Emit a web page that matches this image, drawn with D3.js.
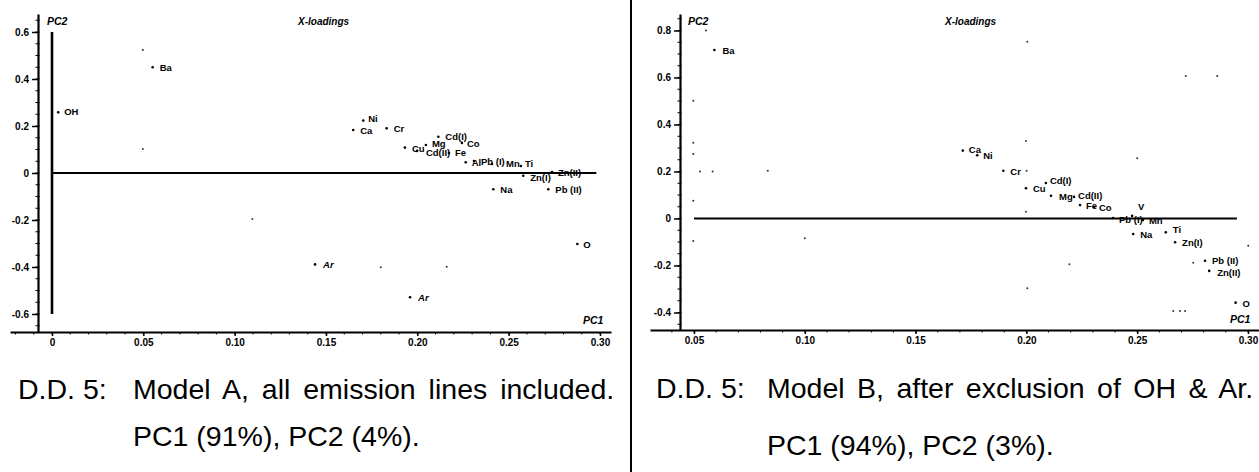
<!DOCTYPE html>
<html>
<head>
<meta charset="utf-8">
<script src="https://cdn.jsdelivr.net/npm/d3@7"></script>
<style>
  html, body { margin: 0; padding: 0; background: #fff; }
  svg { display: block; }
  text { font-family: "Liberation Sans", Arial, sans-serif; fill: #000; }
</style>
</head>
<body>
<svg id="chart" width="1259" height="472"></svg>
<script>
// ---------------- DATA ----------------
// Model A (left panel)
const aNames = ["OH","Ba","Ca","Ni","Cr","Cu","Mg","Cd(II)","Cd(I)","Co","Fe","Al","Pb (I)","Mn","Ti","Zn(I)","Zn(II)","Na","Pb (II)","O","Ar","Ar"];
const aPC1   = [0.0034,0.0551,0.1649,0.1704,0.1832,0.1932,0.2047,0.1998,0.2115,0.2244,0.2173,0.2265,0.2310,0.2409,0.2567,0.2580,0.2737,0.2416,0.2717,0.2876,0.1440,0.1960];
const aPC2   = [0.258,0.450,0.183,0.223,0.190,0.108,0.119,0.094,0.154,0.128,0.085,0.046,0.051,0.038,0.030,-0.012,0.004,-0.069,-0.069,-0.302,-0.389,-0.529];
const aExtraPC1 = [0.0497,0.0497,0.1097,0.1800,0.2161];
const aExtraPC2 = [0.523,0.102,-0.196,-0.401,-0.399];
const aXTicks = [0,0.05,0.10,0.15,0.20,0.25,0.30];
const aXTickLabels = ["0","0.05","0.10","0.15","0.20","0.25","0.30"];
const aYTicks = [-0.6,-0.4,-0.2,0,0.2,0.4,0.6];
const aYTickLabels = ["-0.6","-0.4","-0.2","0","0.2","0.4","0.6"];
const aCaption1 = "Model A, all emission lines included.";
const aCaption2 = "PC1 (91%), PC2 (4%).";

// Model B (right panel)
const bNames = ["Ba","Ca","Ni","Cr","Cu","Cd(I)","Mg","Cd(II)","Fe","Co","Pb (I)","V","Mn","Na","Ti","Zn(I)","Pb (II)","Zn(II)","O"];
const bPC1   = [0.0592,0.1713,0.1778,0.1896,0.1998,0.2088,0.2111,0.2215,0.2242,0.2305,0.2391,0.2477,0.2526,0.2482,0.2629,0.2671,0.2806,0.2825,0.2944];
const bPC2   = [0.717,0.289,0.269,0.203,0.129,0.151,0.097,0.092,0.057,0.049,0.002,0.011,-0.006,-0.066,-0.059,-0.101,-0.180,-0.223,-0.358];
const bExtraPC1 = [0.0554,0.0497,0.0497,0.0497,0.0527,0.0584,0.0833,0.0497,0.0497,0.1000,0.2004,0.2719,0.2861,0.1998,0.2500,0.2001,0.1998,0.3001,0.2753,0.2194,0.2004,0.2663,0.2693,0.2716];
const bExtraPC2 = [0.800,0.501,0.322,0.274,0.200,0.200,0.203,0.076,-0.096,-0.084,0.752,0.606,0.606,0.330,0.256,0.203,0.029,-0.116,-0.188,-0.195,-0.297,-0.394,-0.394,-0.394];
const bXTicks = [0.05,0.10,0.15,0.20,0.25,0.30];
const bXTickLabels = ["0.05","0.10","0.15","0.20","0.25","0.30"];
const bYTicks = [-0.4,-0.2,0,0.2,0.4,0.6,0.8];
const bYTickLabels = ["-0.4","-0.2","0","0.2","0.4","0.6","0.8"];
const bCaption1 = "Model B, after exclusion of OH & Ar.";
const bCaption2 = "PC1 (94%), PC2 (3%).";

const captionPrefix = "D.D. 5:";
const titleText = "X-loadings";

// ---------------- LAYOUT / STYLE ----------------
const svg = d3.select("#chart");
const FONT = "'Liberation Sans', Arial, sans-serif";

// label offsets (pixels) per point, layout only
const aOffsets = [[6,3],[7,4],[7,4],[5,1],[7,4],[7,4],[6,2],[9,5],[7,3],[5,4],[6,3],[6,4],[7,4],[14,3],[4,1],[7,5],[6,4],[7,4],[7,4],[6,4],[8,4],[8,4]];
const bOffsets = [[8,4],[6,2],[6,4],[7,4],[7,4],[4,1],[8,4],[4,2],[6,4],[5,4],[6,5],[6,-6],[6,4],[7,4],[7,1],[7,4],[7,3],[8,5],[7,4]];

function drawPanel(cfg) {
  const g = svg.append("g");
  const x = d3.scaleLinear().domain(cfg.xDom).range(cfg.xRange);
  const y = d3.scaleLinear().domain(cfg.yDom).range(cfg.yRange);

  // axis scales spanning the drawn axis lines
  const xAx = x.copy().domain([x.invert(cfg.xAxisPx[0]), x.invert(cfg.xAxisPx[1])]).range(cfg.xAxisPx);
  const yAx = y.copy().domain([y.invert(cfg.yAxisPx[0]), y.invert(cfg.yAxisPx[1])]).range(cfg.yAxisPx);

  // minor ticks
  const xMinor = d3.range(Math.ceil(xAx.domain()[0] * 100), Math.floor(xAx.domain()[1] * 100) + 1).map(d => d / 100);
  g.append("g").attr("transform", `translate(0,${cfg.xAxisY})`)
    .selectAll("line").data(xMinor).join("line")
    .attr("x1", d => x(d)).attr("x2", d => x(d)).attr("y1", 0).attr("y2", 2.5)
    .attr("stroke", "#000").attr("stroke-width", 1);
  const yMinor = d3.range(Math.ceil(yAx.domain()[0] * 20), Math.floor(yAx.domain()[1] * 20) + 1).map(d => d / 20);
  g.append("g").attr("transform", `translate(${cfg.yAxisX},0)`)
    .selectAll("line").data(yMinor).join("line")
    .attr("x1", -2.5).attr("x2", 1.5).attr("y1", d => y(d)).attr("y2", d => y(d))
    .attr("stroke", "#000").attr("stroke-width", 1);

  const xAxis = d3.axisBottom(xAx).tickValues(cfg.xTicks)
    .tickFormat((d, i) => cfg.xTickLabels[i]).tickSizeInner(4).tickSizeOuter(0).tickPadding(3);
  const gx = g.append("g").attr("transform", `translate(0,${cfg.xAxisY})`).call(xAxis);
  gx.select(".domain").attr("stroke-width", 2.2);
  gx.selectAll(".tick line").attr("stroke-width", 1.5);
  gx.selectAll(".tick text").attr("font-size", 10).attr("font-weight", "bold").attr("font-family", FONT);

  const yAxis = d3.axisLeft(yAx).tickValues(cfg.yTicks)
    .tickFormat((d, i) => cfg.yTickLabels[i]).tickSizeInner(6).tickSizeOuter(0).tickPadding(3);
  const gy = g.append("g").attr("transform", `translate(${cfg.yAxisX},0)`).call(yAxis);
  gy.select(".domain").attr("stroke-width", 2.2);
  gy.selectAll(".tick line").attr("stroke-width", 1.5);
  gy.selectAll(".tick text").attr("font-size", 10).attr("font-weight", "bold").attr("font-family", FONT);

  // zero reference lines
  g.append("line")
    .attr("x1", x(cfg.zeroLineFrom)).attr("x2", x(cfg.zeroLineTo))
    .attr("y1", y(0)).attr("y2", y(0))
    .attr("stroke", "#000").attr("stroke-width", 2);
  if (cfg.vLine) {
    g.append("line")
      .attr("x1", x(0)).attr("x2", x(0))
      .attr("y1", y(cfg.vLine[0])).attr("y2", y(cfg.vLine[1]))
      .attr("stroke", "#000").attr("stroke-width", 2.6);
  }

  // unlabeled points
  const extra = cfg.extraX.map((v, i) => ({ x: v, y: cfg.extraY[i] }));
  g.append("g").selectAll("circle").data(extra).join("circle")
    .attr("cx", d => x(d.x)).attr("cy", d => y(d.y)).attr("r", 1)
    .attr("fill", "#333");

  // labeled points
  const pts = cfg.names.map((n, i) => ({ name: n, x: cfg.px[i], y: cfg.py[i], off: cfg.offsets[i] }));
  g.append("g").selectAll("circle").data(pts).join("circle")
    .attr("cx", d => x(d.x)).attr("cy", d => y(d.y)).attr("r", 1.3)
    .attr("fill", "#000");
  g.append("g").selectAll("text").data(pts).join("text")
    .attr("x", d => x(d.x) + d.off[0]).attr("y", d => y(d.y) + d.off[1])
    .attr("font-size", 9.5).attr("font-weight", "bold")
    .attr("font-style", d => d.name === "Ar" ? "italic" : "normal")
    .text(d => d.name);

  // axis titles
  g.append("text").attr("x", cfg.pc2Pos[0]).attr("y", cfg.pc2Pos[1])
    .attr("font-size", 10.5).attr("font-weight", "bold").attr("font-style", "italic").text("PC2");
  g.append("text").attr("x", cfg.pc1Pos[0]).attr("y", cfg.pc1Pos[1])
    .attr("font-size", 10.5).attr("font-weight", "bold").attr("font-style", "italic").text("PC1");
  g.append("text").attr("x", cfg.titlePos[0]).attr("y", cfg.titlePos[1])
    .attr("font-size", 10).attr("font-weight", "bold").attr("font-style", "italic").text(titleText);

  // captions
  g.append("text").attr("x", cfg.capX0).attr("y", cfg.capY1).attr("font-size", 28.5).text(captionPrefix);
  g.append("text").attr("x", cfg.capX1).attr("y", cfg.capY1).attr("font-size", 28.5)
    .attr("word-spacing", cfg.capWordSpacing).text(cfg.cap1);
  g.append("text").attr("x", cfg.capX1).attr("y", cfg.capY2).attr("font-size", 28.5).text(cfg.cap2);
}

drawPanel({
  names: aNames, px: aPC1, py: aPC2, offsets: aOffsets,
  extraX: aExtraPC1, extraY: aExtraPC2,
  xDom: [0, 0.30], xRange: [52, 600],
  yDom: [-0.6, 0.6], yRange: [314, 32],
  xAxisPx: [10, 611], xAxisY: 332,
  yAxisPx: [332, 14], yAxisX: 38,
  xTicks: aXTicks, xTickLabels: aXTickLabels,
  yTicks: aYTicks, yTickLabels: aYTickLabels,
  zeroLineFrom: 0, zeroLineTo: 0.298,
  vLine: [-0.6, 0.6],
  pc2Pos: [47, 25], pc1Pos: [583, 324], titlePos: [298, 25],
  capX0: 18, capX1: 133, capY1: 399, capY2: 446, capWordSpacing: 5,
  cap1: aCaption1, cap2: aCaption2
});

drawPanel({
  names: bNames, px: bPC1, py: bPC2, offsets: bOffsets,
  extraX: bExtraPC1, extraY: bExtraPC2,
  xDom: [0.05, 0.30], xRange: [694, 1248],
  yDom: [-0.4, 0.8], yRange: [312.5, 30.5],
  xAxisPx: [650, 1259], xAxisY: 330,
  yAxisPx: [330, 14], yAxisX: 680,
  xTicks: bXTicks, xTickLabels: bXTickLabels,
  yTicks: bYTicks, yTickLabels: bYTickLabels,
  zeroLineFrom: 0.05, zeroLineTo: 0.295,
  vLine: null,
  pc2Pos: [688, 25], pc1Pos: [1230, 323], titlePos: [945, 25],
  capX0: 656, capX1: 767, capY1: 398, capY2: 455, capWordSpacing: 4.5,
  cap1: bCaption1, cap2: bCaption2
});

// panel separator
svg.append("line").attr("x1", 631).attr("x2", 631).attr("y1", 0).attr("y2", 472)
  .attr("stroke", "#000").attr("stroke-width", 2);
</script>
</body>
</html>
